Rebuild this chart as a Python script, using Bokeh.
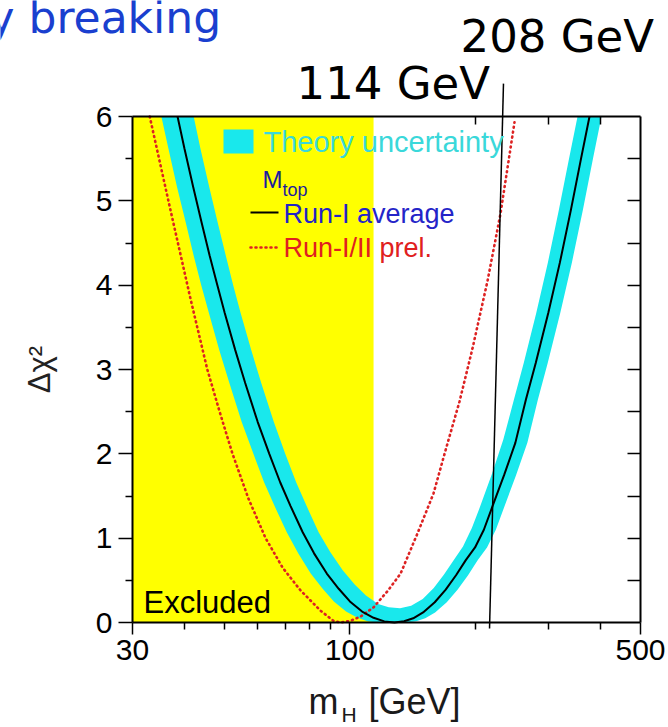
import math

from bokeh.plotting import figure
from bokeh.models import (Range1d, FixedTicker, LogAxis, LinearAxis, Label,
                          PrintfTickFormatter)
from bokeh.embed import file_html
from bokeh.resources import INLINE

# ---- data -------------------------------------------------------------
# direct-search exclusion (yellow region), GeV
excluded_lo = 30.0
excluded_hi = 114.0

# Run-I average top mass: delta chi^2 versus Higgs mass (GeV)
mh_run1 = [38.5, 40, 42, 44, 46, 48, 50, 53, 56, 60, 64, 68, 72, 77, 82, 88,
           94, 100, 107, 114, 121, 128, 135, 142, 150, 160, 170, 180, 190,
           200, 210, 220, 235, 250, 265, 280, 300, 320, 340, 360, 377]
chi2_run1 = [6.00, 5.62, 5.16, 4.74, 4.35, 4.00, 3.67, 3.23, 2.84, 2.38, 2.00,
             1.66, 1.38, 1.07, 0.82, 0.58, 0.40, 0.25, 0.13, 0.056, 0.013, 0.0,
             0.014, 0.05, 0.12, 0.24, 0.39, 0.56, 0.74, 0.89, 1.10, 1.37, 1.75,
             2.13, 2.64, 3.08, 3.67, 4.27, 4.89, 5.51, 6.0]

# theory uncertainty band: upper edge and lower edge
band_hi_mh = [42.1, 43.7, 45.9, 48.1, 50.3, 52.4, 54.6, 57.9, 61.2, 65.6,
              69.9, 74.3, 78.7, 84.1, 89.6, 96.1, 102.7, 109.3, 116.9, 124,
              132, 140.4, 149.7, 159.1, 168.4, 177.8, 187.1, 196.5, 205.9,
              219.9, 233.9, 248.0, 262.0, 280.7, 299.4, 318.1, 336.9, 352.8]
band_hi_chi2 = [6.0, 5.62, 5.16, 4.74, 4.35, 4.0, 3.67, 3.23, 2.84, 2.38,
                2.0, 1.66, 1.38, 1.07, 0.84, 0.62, 0.45, 0.32, 0.22, 0.18,
                0.17, 0.2, 0.28, 0.41, 0.57, 0.74, 0.9, 1.12, 1.38,
                1.77, 2.17, 2.64, 3.08, 3.67, 4.27, 4.89, 5.51, 6.0]
band_lo_mh = [35.2, 36.6, 38.4, 40.3, 42.1, 43.9, 45.8, 48.5, 51.3, 54.9,
              58.6, 62.2, 65.9, 70.5, 75.1, 80.5, 86.0, 91.5, 97.9, 104.3,
              110.7, 117.2, 136.8, 144.3, 151.8, 160.3, 171.0, 181.7, 192.4,
              203.1, 213.7, 224.4, 235.1, 251.1, 267.2, 283.2, 299.2, 320.6,
              342.0, 363.4, 384.7, 402.9]
band_lo_chi2 = [6.0, 5.62, 5.16, 4.74, 4.35, 4.0, 3.67, 3.23, 2.84, 2.38,
                2.0, 1.66, 1.38, 1.07, 0.82, 0.58, 0.40, 0.25, 0.13, 0.056,
                0.013, 0.0, 0.0, 0.014, 0.05, 0.12, 0.24, 0.39, 0.56,
                0.74, 0.89, 1.10, 1.37, 1.75, 2.13, 2.64, 3.08, 3.67,
                4.27, 4.89, 5.51, 6.0]

# Run-I/II preliminary top mass
mh_run2 = [33.0, 36.6, 41.4, 45.4, 48.6, 52.2, 57.0, 62.7, 68.9, 76.1, 85.0,
           91.3, 94.9, 100.3, 106.1, 114.0, 123.1, 132.4, 145.5, 158.9, 169.8,
           183.5, 197.2, 214.3, 230.3, 248.8]
chi2_run2 = [6.0, 5.0, 3.83, 3.0, 2.5, 2.0, 1.47, 1.0, 0.65, 0.38, 0.14,
             0.02, 0.0, 0.02, 0.07, 0.18, 0.37, 0.58, 1.06, 1.53, 2.04,
             2.62, 3.25, 4.05, 4.85, 5.93]

x_ticks = [30, 100, 500]
x_minor = [40, 50, 60, 70, 80, 90, 200, 300, 400]
x_top_minor = [200, 300, 400]
y_ticks = [0, 1, 2, 3, 4, 5, 6]
y_minor = [0.5, 1.5, 2.5, 3.5, 4.5, 5.5]
y_right = [0.5, 1, 1.5, 2, 2.5, 3, 3.5, 4, 4.5, 5, 5.5]

# hand-drawn marker line near the LEP energy reach
marker_mh = [216.7, 234.1]
marker_chi2 = [-0.071, 6.39]

# ---- page geometry ----------------------------------------------------
W, H = 668, 727
BOX_L, BOX_R, BOX_T, BOX_B = 132, 640, 116, 622   # plot box on the page
X0, X1 = x_ticks[0], x_ticks[-1]
Y0, Y1 = y_ticks[0], y_ticks[-1]
dec_px = (BOX_R - BOX_L) / math.log10(X1 / X0)
unit_px = (BOX_B - BOX_T) / (Y1 - Y0)


def at_x(px):
    return X0 * 10 ** ((px - BOX_L) / dec_px)


def at_y(py):
    return Y0 + (BOX_B - py) / unit_px


p = figure(width=W, height=H, x_axis_type="log",
           x_range=Range1d(at_x(0), at_x(W)), y_range=Range1d(at_y(H), at_y(0)),
           output_backend="svg", toolbar_location=None, min_border=0,
           background_fill_color="white", border_fill_color="white")
p.title.visible = False
p.grid.visible = False
p.outline_line_color = None

YELLOW = "#ffff00"
CYAN = "#19e8ec"
RED = "#dd2222"
DOTS = "1 4"

p.quad(left=excluded_lo, right=excluded_hi, bottom=Y0, top=Y1,
       fill_color=YELLOW, line_color=None)

band_x = band_hi_mh + band_lo_mh[::-1]
band_y = band_hi_chi2 + band_lo_chi2[::-1]
p.patch(band_x, band_y, fill_color=CYAN, line_color=None)

p.line(mh_run2, chi2_run2, line_color=RED, line_width=2.6,
       line_dash=DOTS, line_cap="round")
p.line(mh_run1, chi2_run1, line_color="black", line_width=2)

p.line(marker_mh, marker_chi2, line_color="black", line_width=1.5)

# ---- axes (drawn on the box edges) ------------------------------------
FONT = "Liberation Sans"
xa = p.xaxis[0]
xa.fixed_location = Y0
xa.bounds = (X0, X1)
xa.ticker = FixedTicker(ticks=x_ticks, minor_ticks=x_minor)
xa.formatter = PrintfTickFormatter(format="%d")
xa.major_label_text_font = FONT
xa.major_label_text_font_size = "30px"
xa.major_label_text_color = "black"
xa.major_tick_out = 12
xa.major_tick_in = 0
xa.minor_tick_out = 7
xa.minor_tick_in = 0
xa.major_label_standoff = 5
xa.axis_line_width = 2
xa.major_tick_line_width = 1.5
xa.minor_tick_line_width = 1.5

ya = p.yaxis[0]
ya.fixed_location = X0
ya.bounds = (Y0, Y1)
ya.ticker = FixedTicker(ticks=y_ticks, minor_ticks=y_minor)
ya.major_label_text_font = FONT
ya.major_label_text_font_size = "30px"
ya.major_label_text_color = "black"
ya.major_tick_out = 14
ya.major_tick_in = 0
ya.minor_tick_out = 7
ya.minor_tick_in = 0
ya.major_label_standoff = 6
ya.axis_line_width = 2
ya.major_tick_line_width = 1.5
ya.minor_tick_line_width = 1.5
ya.axis_label = "Δχ²"
ya.axis_label_text_font = FONT
ya.axis_label_text_font_size = "31px"
ya.axis_label_text_font_style = "normal"
ya.axis_label_text_color = "#222222"
ya.axis_label_standoff = 36

right = LinearAxis(fixed_location=X1, bounds=(Y0, Y1),
                   ticker=FixedTicker(ticks=[], minor_ticks=y_right),
                   minor_tick_in=13, minor_tick_out=0,
                   axis_line_width=2, minor_tick_line_width=1.5)
p.add_layout(right, "right")

top = LogAxis(fixed_location=Y1, bounds=(X0, X1),
              ticker=FixedTicker(ticks=[], minor_ticks=x_top_minor),
              minor_tick_in=8, minor_tick_out=0,
              axis_line_width=2, minor_tick_line_width=1.5)
p.add_layout(top, "above")


def text(px, base, s, size, color, font=FONT):
    """Place a text with its alphabetic baseline at page row `base`."""
    descent = 0.22 * size
    p.add_layout(Label(x=at_x(px), y=at_y(base + descent), text=s,
                       text_font=font, text_font_size=f"{size}px",
                       text_color=color, text_baseline="bottom",
                       text_align="left"))


# ---- legend -----------------------------------------------------------
p.quad(left=at_x(223), right=at_x(253), bottom=at_y(153), top=at_y(129),
       fill_color=CYAN, line_color=None)
text(263, 151, "Theory uncertainty", 29, "#3ad8da")
text(262, 187, "M", 24, "#1c1c9c")
text(282, 196, "top", 18, "#1c1c9c")
p.line([at_x(250), at_x(278)], [at_y(212)] * 2, line_color="black",
       line_width=2)
text(283, 223, "Run-I average", 27, "#2424c8")
p.line([at_x(250), at_x(278)], [at_y(247)] * 2, line_color=RED,
       line_width=2.6, line_dash=DOTS, line_cap="round")
text(283, 257, "Run-I/II prel.", 27, "#e02020")
text(143, 613, "Excluded", 31, "black")

# ---- x axis title -----------------------------------------------------
text(308, 714, "m", 36, "#1a1a1a")
text(341, 721, "H", 21, "#1a1a1a")
text(368, 714, "[GeV]", 36, "#1a1a1a")

# ---- annotations above the box ----------------------------------------
BIG = "DejaVu Sans"
text(-12, 33, "y breaking", 44, "#1a3fcf", BIG)
text(296, 100, "114 GeV", 45, "black", BIG)
text(460, 53, "208 GeV", 45, "black", BIG)

open("out.html", "w").write(file_html(p, INLINE))
